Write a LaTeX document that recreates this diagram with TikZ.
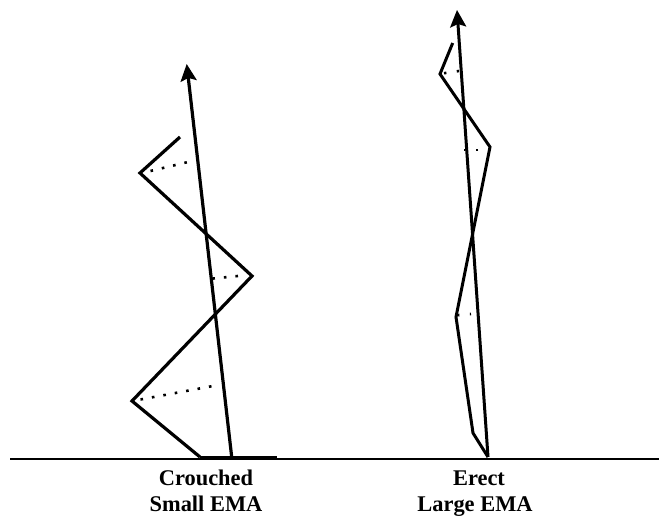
\documentclass[tikz,border=0pt]{standalone}
\usepackage{fontspec}
\setmainfont{Liberation Serif}
\usetikzlibrary{arrows.meta}

\tikzset{
  limb/.style={line width=3.2bp, line join=miter, line cap=butt},
  loadline/.style={line width=3.2bp, -{Stealth[length=17bp, width=16bp, inset=3bp]}},
  momentarm/.style={line width=2.6bp, line cap=butt, dash pattern=on 2.6bp off 9bp},
  groundline/.style={line width=2.6bp},
  caption/.style={font=\fontsize{22.5}{26}\selectfont\bfseries, anchor=base, inner sep=0pt}
}

\begin{document}
\begin{tikzpicture}[x=1bp, y=-1bp]
  \useasboundingbox (0,0) rectangle (659,519);
  \fill[white] (0,0) rectangle (659,519);

  % ground
  \coordinate (g0) at (10,459);
  \coordinate (g1) at (659,459);
  \draw[groundline] (g0) -- (g1);

  % ---- crouched posture ----
  \coordinate (cA) at (231.7,457);   % base of ground reaction line
  \coordinate (cT) at (186.7,64);    % tip of ground reaction line
  \coordinate (c1) at (180,137);     % trunk end
  \coordinate (c2) at (140,173);     % hip
  \coordinate (c3) at (252,276);     % knee
  \coordinate (c4) at (132,401);     % ankle
  \coordinate (c5) at (200,457);     % heel
  \coordinate (cF) at (277,457);     % toe

  \draw[limb] (c1) -- (c2) -- (c3) -- (c4) -- (c5);
  \draw[limb, line width=2.6bp] (c5) -- (cF);
  \draw[loadline] (cA) -- (cT);

  % moment arms
  \coordinate (ch0) at (150.5,171);
  \coordinate (ch1) at (188,162);
  \draw[momentarm] (ch0) -- (ch1);
  \coordinate (ck0) at (238,276);
  \coordinate (ck1) at (213,278.5);
  \draw[momentarm] (ck0) -- (ck1);
  \coordinate (ca0) at (140.5,399.5);
  \coordinate (ca1) at (213,386);
  \draw[momentarm] (ca0) -- (ca1);

  % ---- erect posture ----
  \coordinate (eA) at (488,457);
  \coordinate (eT) at (457,10);
  \coordinate (e1) at (452.7,43);
  \coordinate (e2) at (440,74);
  \coordinate (e3) at (490,147);
  \coordinate (e4) at (456,317);
  \coordinate (e5) at (473,433);

  \draw[limb, line width=3bp] (e1) -- (e2) -- (e3) -- (e4) -- (e5) -- (eA);
  \draw[loadline, line width=3bp] (eA) -- (eT);

  \coordinate (eh0) at (444,73.2);
  \coordinate (eh1) at (459,71);
  \draw[momentarm, dash pattern=on 2.4bp off 10.5bp] (eh0) -- (eh1);
  \coordinate (ek0) at (478,150);
  \coordinate (ek1) at (464,150);
  \draw[momentarm, dash pattern=on 2.4bp off 10.5bp] (ek0) -- (ek1);
  \coordinate (ea0) at (457,315.2);
  \coordinate (ea1) at (471,314);
  \draw[momentarm, dash pattern=on 2.4bp off 10.5bp] (ea0) -- (ea1);

  % captions
  \node[caption] (crouch) at (206,485) {Crouched};
  \node[caption] (small)  at (206,511.5) {Small EMA};
  \node[caption] (erect)  at (479,485) {Erect};
  \node[caption] (large)  at (475,511.5) {Large EMA};
\end{tikzpicture}
\end{document}
